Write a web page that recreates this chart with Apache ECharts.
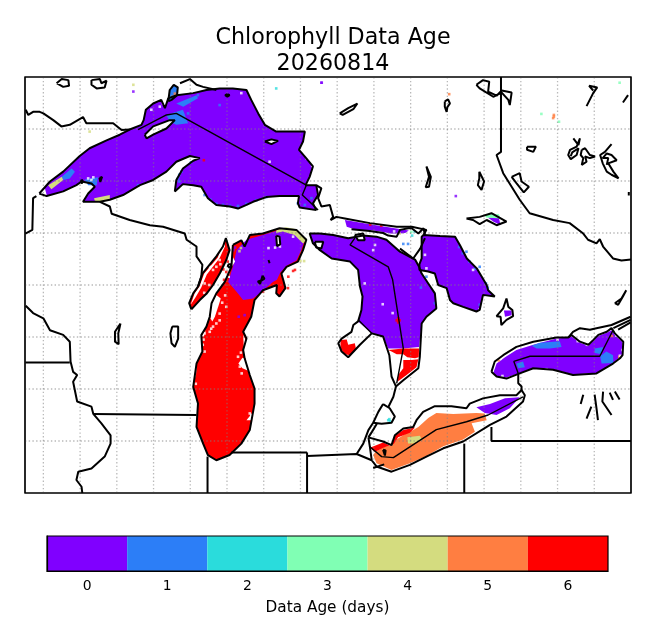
<!DOCTYPE html>
<html><head><meta charset="utf-8">
<style>html,body{margin:0;padding:0;background:#fff}#c{width:655px;height:640px}</style>
<script src="https://cdn.jsdelivr.net/npm/echarts@6/dist/echarts.min.js"></script>
</head><body><div id="c"></div>
<script>
const titleLines = ['Chlorophyll Data Age', '20260814'];
const ageCategories = ['0','1','2','3','4','5','6'];
const ageColors = ['#8000ff','#2c7ef7','#2adcdc','#80ffb4','#d4dc7f','#ff7e41','#ff0000'];
const colorbarLabel = 'Data Age (days)';
const gridLons = [-92,-91,-90,-89,-88,-87,-86,-85,-84,-83,-82,-81,-80,-79,-78,-77];
const gridLats = [42,43,44,45,46,47,48];

// Lake outlines, lon/lat
const superior = [[-92.11,46.76],[-91.82,46.99],[-91.46,47.18],[-91.01,47.48],[-90.74,47.63],[-90.28,47.78],[-89.92,47.89],[-89.65,47.99],[-89.33,48.08],[-89.27,48.17],[-89.21,48.37],[-89.01,48.49],[-88.79,48.56],[-88.69,48.40],[-88.60,48.59],[-88.37,48.65],[-87.92,48.69],[-87.56,48.75],[-87.20,48.78],[-86.84,48.78],[-86.47,48.75],[-86.34,48.56],[-86.15,48.30],[-85.97,48.08],[-85.66,47.95],[-85.20,47.95],[-84.88,47.95],[-84.93,47.76],[-85.04,47.60],[-84.88,47.47],[-84.66,47.28],[-84.75,47.08],[-84.86,46.92],[-84.57,46.92],[-84.52,46.73],[-84.66,46.57],[-84.57,46.44],[-85.02,46.49],[-85.07,46.57],[-85.04,46.71],[-85.57,46.71],[-85.93,46.69],[-86.29,46.60],[-86.47,46.54],[-86.70,46.47],[-86.92,46.51],[-87.29,46.54],[-87.52,46.67],[-87.70,46.89],[-87.92,46.92],[-88.20,46.94],[-88.42,46.80],[-88.38,47.02],[-88.20,47.24],[-87.92,47.39],[-87.74,47.44],[-88.01,47.48],[-88.38,47.37],[-88.65,47.18],[-89.01,47.02],[-89.37,46.92],[-89.83,46.73],[-90.19,46.64],[-90.46,46.60],[-90.92,46.60],[-90.78,46.76],[-90.60,46.89],[-90.69,46.95],[-90.96,46.99],[-91.10,46.92],[-91.46,46.80],[-91.91,46.71]];
const michigan = [[-86.84,45.77],[-86.61,45.86],[-86.52,45.74],[-86.38,45.96],[-86.02,45.99],[-85.57,46.09],[-85.11,46.06],[-84.84,45.87],[-84.93,45.67],[-85.07,45.45],[-85.38,45.35],[-85.52,45.22],[-85.47,45.10],[-85.41,44.94],[-85.57,44.78],[-85.66,44.84],[-85.64,45.00],[-86.02,44.90],[-86.25,44.71],[-86.34,44.39],[-86.56,44.10],[-86.47,43.97],[-86.56,43.75],[-86.52,43.59],[-86.38,43.27],[-86.25,43.01],[-86.25,42.72],[-86.38,42.21],[-86.61,41.95],[-86.93,41.73],[-87.29,41.63],[-87.52,41.73],[-87.65,41.95],[-87.83,42.27],[-87.79,42.72],[-87.92,43.04],[-87.83,43.49],[-87.67,43.72],[-87.70,44.04],[-87.56,44.20],[-87.47,44.39],[-87.42,44.65],[-87.29,44.84],[-87.06,45.06],[-86.88,45.35]];
const greenBay = [[-87.97,44.53],[-88.03,44.65],[-87.92,44.84],[-87.79,44.97],[-87.67,45.22],[-87.29,45.55],[-87.11,45.74],[-87.03,45.90],[-86.93,45.67],[-87.02,45.48],[-87.19,45.23],[-87.38,45.00],[-87.56,44.83],[-87.74,44.71]];
const huron = [[-84.47,45.99],[-84.11,45.96],[-83.70,45.90],[-83.29,45.95],[-82.93,45.93],[-82.66,45.87],[-82.29,45.64],[-81.88,45.49],[-81.77,45.35],[-81.70,45.22],[-81.52,45.03],[-81.34,44.84],[-81.30,44.55],[-81.57,44.39],[-81.70,44.26],[-81.75,43.62],[-81.79,43.40],[-82.20,43.17],[-82.40,43.05],[-82.52,43.24],[-82.58,43.65],[-82.75,44.01],[-83.06,44.07],[-83.38,43.85],[-83.70,43.61],[-83.88,43.72],[-83.97,43.88],[-83.88,43.97],[-83.61,44.10],[-83.56,44.23],[-83.43,44.30],[-83.34,44.52],[-83.31,44.78],[-83.38,44.97],[-83.43,45.29],[-83.65,45.45],[-84.15,45.51],[-84.47,45.67],[-84.66,45.80],[-84.75,45.99]];
const georgian = [[-81.65,45.96],[-81.20,45.94],[-80.79,45.93],[-80.66,45.77],[-80.47,45.51],[-80.20,45.32],[-79.93,45.00],[-79.89,44.90],[-79.71,44.78],[-80.03,44.81],[-80.12,44.52],[-80.21,44.49],[-80.57,44.58],[-80.84,44.65],[-80.93,44.71],[-80.98,44.84],[-81.02,44.94],[-81.25,45.00],[-81.34,45.22],[-81.52,45.26],[-81.76,45.29],[-81.76,45.40],[-81.70,45.51],[-81.70,45.93]];
const erie = [[-83.15,42.07],[-83.11,41.89],[-83.06,41.63],[-82.93,41.51],[-82.52,41.41],[-82.02,41.54],[-81.57,41.70],[-81.11,41.86],[-80.57,41.99],[-79.84,42.31],[-79.39,42.47],[-78.94,42.76],[-78.89,42.88],[-78.98,42.98],[-79.12,42.88],[-79.57,42.88],[-80.03,42.82],[-80.39,42.72],[-80.48,42.63],[-80.89,42.67],[-81.34,42.67],[-81.66,42.56],[-81.84,42.40],[-81.93,42.27],[-82.20,42.24],[-82.43,42.11],[-82.52,41.92],[-82.75,41.99]];
const ontario = [[-79.80,43.33],[-79.71,43.53],[-79.48,43.65],[-79.12,43.81],[-78.66,43.91],[-78.03,43.99],[-77.71,43.99],[-77.62,44.04],[-77.39,43.91],[-77.16,43.85],[-77.03,43.94],[-76.89,44.04],[-76.66,44.10],[-76.53,44.17],[-76.44,44.07],[-76.21,43.91],[-76.23,43.65],[-76.30,43.59],[-76.49,43.49],[-76.94,43.30],[-77.58,43.27],[-78.12,43.37],[-78.66,43.40],[-79.03,43.30],[-79.39,43.20],[-79.66,43.24]];
const stClair = [[-82.75,42.71],[-82.57,42.63],[-82.43,42.47],[-82.52,42.35],[-82.79,42.33],[-83.02,42.35],[-82.88,42.56]];

// Areas of each data age
const huronAge0 = [[-84.47,45.99],[-84.11,45.96],[-83.70,45.90],[-83.29,45.95],[-82.93,45.93],[-82.66,45.87],[-82.29,45.64],[-81.88,45.49],[-81.77,45.35],[-81.70,45.22],[-81.52,45.03],[-81.34,44.84],[-81.30,44.55],[-81.57,44.39],[-81.70,44.26],[-81.77,43.81],[-82.20,43.78],[-82.61,43.78],[-82.75,44.01],[-83.06,44.07],[-83.43,44.30],[-83.34,44.52],[-83.31,44.78],[-83.38,44.97],[-83.43,45.29],[-83.65,45.45],[-84.15,45.51],[-84.47,45.67],[-84.66,45.80],[-84.75,45.99]];
const michiganAge0 = [[-86.47,45.87],[-86.02,45.96],[-85.57,46.06],[-85.11,46.03],[-84.88,45.87],[-84.98,45.67],[-85.11,45.47],[-85.38,45.37],[-85.55,45.24],[-85.64,45.10],[-85.75,45.06],[-86.06,44.87],[-86.29,44.74],[-86.56,44.71],[-86.74,44.87],[-86.97,45.06],[-86.84,45.35],[-86.74,45.67],[-86.61,45.77]];
const northChannelAge0 = [[-83.79,46.25],[-83.11,46.17],[-82.43,46.09],[-82.05,46.05],[-82.15,46.00],[-82.29,45.99],[-82.56,45.99],[-82.75,46.02],[-83.11,46.06],[-83.47,46.06],[-83.74,46.12]];
const ontarioAge0 = [[-79.75,43.31],[-79.66,43.49],[-79.43,43.61],[-79.12,43.75],[-78.66,43.85],[-78.03,43.97],[-77.71,43.99],[-77.62,44.01],[-77.39,43.89],[-77.16,43.83],[-77.03,43.92],[-76.89,44.02],[-76.66,44.08],[-76.53,44.13],[-76.44,44.04],[-76.23,43.90],[-76.25,43.65],[-76.49,43.50],[-76.94,43.31],[-77.58,43.28],[-78.12,43.38],[-78.66,43.41],[-79.03,43.31],[-79.39,43.22],[-79.66,43.25]];
const erieAge0 = [[-80.21,42.65],[-79.84,42.71],[-79.43,42.82],[-79.03,42.84],[-79.30,42.63],[-79.66,42.50],[-79.98,42.54]];
const simcoeAge0 = [[-79.46,44.51],[-79.25,44.51],[-79.25,44.42],[-79.43,44.39]];
const nipissingAge0 = [[-79.90,46.30],[-79.60,46.30],[-79.55,46.15],[-79.75,46.22]];
const nipissingAge3 = [[-79.98,46.36],[-79.60,46.36],[-79.55,46.28],[-79.95,46.30]];
const superiorAge1A = [[-88.65,48.27],[-88.20,48.37],[-88.06,48.11],[-88.38,48.08],[-88.56,48.14]];
const superiorAge1B = [[-88.38,48.49],[-87.83,48.65],[-87.79,48.59],[-88.19,48.43]];
const superiorAge1C = [[-91.50,47.08],[-91.23,47.24],[-91.14,47.18],[-91.28,47.05],[-91.46,47.02]];
const superiorAge1D = [[-90.87,47.03],[-90.51,47.07],[-90.55,46.92],[-90.78,46.92]];
const nipigonAge1 = [[-88.60,48.53],[-88.56,48.75],[-88.45,48.85],[-88.34,48.80],[-88.36,48.65],[-88.51,48.56]];
const ontarioAge1A = [[-78.71,43.83],[-78.48,43.89],[-77.94,43.92],[-77.89,43.81],[-78.21,43.78],[-78.57,43.78]];
const ontarioAge1B = [[-76.84,43.63],[-76.67,43.72],[-76.49,43.65],[-76.48,43.50],[-76.80,43.49]];
const ontarioAge1C = [[-79.12,43.49],[-78.94,43.53],[-78.89,43.42],[-79.07,43.40]];
const ontarioAge1D = [[-76.99,43.78],[-76.76,43.81],[-76.80,43.67],[-76.99,43.69]];
const superiorAge4A = [[-91.87,46.92],[-91.50,47.08],[-91.46,47.02],[-91.78,46.84]];
const superiorAge4B = [[-90.62,46.67],[-90.19,46.73],[-90.19,46.65],[-90.46,46.60],[-90.60,46.62]];
const michiganAge4 = [[-85.66,46.06],[-85.39,46.11],[-85.11,46.07],[-84.82,45.87],[-84.93,45.80],[-85.16,45.96],[-85.48,46.03],[-85.66,46.00]];
const erieAge4 = [[-82.09,42.07],[-81.75,42.10],[-81.68,42.02],[-81.93,41.95],[-82.07,41.95]];
const erieAge5 = [[-83.02,41.73],[-82.93,41.57],[-82.52,41.44],[-82.02,41.57],[-81.57,41.71],[-81.11,41.90],[-80.57,42.03],[-80.25,42.18],[-80.34,42.34],[-79.93,42.40],[-79.98,42.53],[-80.21,42.54],[-80.84,42.52],[-81.30,42.54],[-81.52,42.44],[-81.79,42.27],[-81.93,42.21],[-82.16,42.13],[-82.43,42.01],[-82.49,41.92],[-82.75,41.89],[-82.97,41.78]];
const erieAge6 = [[-83.11,41.87],[-82.75,41.97],[-82.55,41.91],[-82.43,42.10],[-82.20,42.21],[-81.88,42.26],[-82.02,42.16],[-82.34,42.07],[-82.46,41.94],[-82.75,41.87],[-82.97,41.79]];
const huronAge6A = [[-82.61,43.75],[-82.20,43.78],[-81.77,43.78],[-81.78,43.61],[-81.88,43.59],[-82.09,43.61],[-82.20,43.67],[-82.38,43.67],[-82.52,43.72]];
const huronAge6B = [[-82.20,43.56],[-81.98,43.56],[-81.79,43.57],[-81.84,43.42],[-82.11,43.27],[-82.36,43.14],[-82.34,43.27],[-82.20,43.40]];
const saginawAge6 = [[-83.91,43.94],[-83.74,43.95],[-83.70,43.85],[-83.52,43.88],[-83.49,43.78],[-83.65,43.65],[-83.79,43.67],[-83.91,43.78]];

// Land and no-data areas inside the lakes
const isleRoyale = [[-89.24,47.89],[-89.01,48.05],[-88.56,48.17],[-88.42,48.17],[-88.65,48.01],[-89.01,47.89],[-89.19,47.82]];
const michipicoten = [[-85.97,47.76],[-85.79,47.80],[-85.61,47.77],[-85.79,47.71]];
const boisBlanc = [[-84.61,45.83],[-84.38,45.83],[-84.43,45.70],[-84.57,45.72]];
const drummond = [[-83.52,45.96],[-83.29,45.99],[-83.25,45.86],[-83.43,45.86]];
const manitou = [[-85.66,45.95],[-85.57,45.93],[-85.55,45.78],[-85.64,45.75]];
const duluthGap = [[-92.08,46.78],[-91.96,46.86],[-91.91,46.73],[-92.02,46.71]];
const greenBayGap = [[-87.10,45.83],[-87.25,45.53],[-87.62,45.22],[-87.75,44.97],[-87.88,44.84],[-87.99,44.62],[-87.86,44.76],[-87.70,44.95],[-87.55,45.20],[-87.20,45.52],[-87.05,45.75]];
const michiganGapA = [[-87.42,44.65],[-87.29,44.81],[-87.17,44.74],[-87.24,44.58],[-87.33,44.39],[-87.40,44.30],[-87.45,44.36]];
const michiganGapB = [[-86.69,43.49],[-86.58,43.60],[-86.52,43.59],[-86.42,43.35],[-86.58,43.40]];
const michiganGapC = [[-86.47,42.40],[-86.29,42.56],[-86.34,42.40]];
const michiganGapD = [[-87.70,44.01],[-87.58,44.13],[-87.63,44.01]];
const michiganGapE = [[-87.88,43.33],[-87.82,43.49],[-87.85,43.21]];
const michiganGapF = [[-86.56,44.04],[-86.49,43.94],[-86.54,43.78]];
const michiganGapG = [[-87.01,45.55],[-86.87,45.58],[-86.78,45.45],[-86.92,45.29],[-86.92,45.13],[-87.05,45.16]];

// Scattered single cells by age
const speck0 = [[-86.52,44.42],[-86.68,44.39],[-80.77,46.71],[-84.42,48.89],[-89.55,48.72],[-84.43,48.89],[-86.83,45.67],[-86.78,45.72]];
const speck1 = [[-87.79,48.65],[-87.20,48.46],[-88.06,48.30],[-89.42,46.92],[-90.83,46.99],[-84.70,46.67],[-85.07,46.57],[-84.88,46.54],[-81.57,45.16],[-80.12,45.35],[-80.48,45.64],[-82.07,45.79],[-82.20,45.79],[-81.34,44.65],[-80.12,44.62],[-87.61,46.73],[-87.29,46.56],[-86.92,46.52],[-86.47,46.56],[-85.93,46.69],[-87.45,46.64],[-87.11,46.54],[-86.70,46.52],[-86.20,46.63],[-88.30,46.99],[-88.33,47.05],[-88.30,47.12],[-88.24,47.18],[-87.98,47.36],[-80.68,45.73],[-80.58,45.61],[-80.40,45.45],[-80.25,45.31],[-81.72,44.95],[-79.95,45.03],[-79.90,44.95]];
const speck2 = [[-85.66,48.78],[-82.61,42.40],[-82.56,42.38],[-82.58,42.42],[-81.89,46.03],[-81.96,45.95]];
const speck3 = [[-77.96,48.14],[-78.44,48.29],[-76.31,48.89],[-81.98,46.02]];
const speck4 = [[-89.55,48.85],[-90.74,47.95],[-85.00,45.46],[-84.90,45.46],[-82.30,45.99],[-86.62,45.71],[-86.66,45.65]];
const speck5 = [[-80.95,48.67],[-78.10,48.27],[-78.10,48.24],[-78.12,48.21],[-88.48,48.62],[-88.42,48.68],[-76.32,43.62],[-76.52,44.02],[-79.60,43.55]];
const speck6 = [[-87.63,47.40],[-82.34,44.32],[-82.30,44.32],[-82.38,44.32],[-82.34,44.36],[-82.34,44.28],[-85.20,45.27],[-86.02,44.87],[-85.34,44.94],[-85.15,45.29],[-85.33,45.16],[-87.10,45.30],[-87.02,45.25],[-86.98,45.45],[-87.08,45.10],[-86.95,45.20],[-83.10,46.16],[-82.80,46.14]];
const speckBlank = [[-85.84,47.37],[-84.84,47.44],[-84.68,47.29],[-90.78,47.05],[-90.69,47.02],[-90.64,47.07],[-89.06,48.37],[-88.83,48.43],[-88.74,48.49],[-86.61,48.69],[-85.20,45.93],[-82.97,45.77],[-83.02,45.67],[-83.25,45.03],[-80.30,45.29],[-81.61,45.58],[-81.57,45.32],[-82.76,44.63],[-82.49,44.46],[-80.12,44.53],[-87.47,45.35],[-87.38,45.29],[-87.61,45.03],[-87.20,45.48],[-87.29,45.35],[-87.20,44.45],[-87.29,44.26],[-87.02,44.58],[-87.61,43.72],[-87.61,44.07],[-87.47,44.10],[-86.65,43.43],[-86.38,42.53],[-86.34,42.50],[-85.69,45.72],[-85.56,45.74],[-85.87,45.71],[-87.33,44.55],[-87.13,44.66],[-87.05,44.80],[-87.20,44.32],[-87.38,44.20],[-87.43,44.16],[-87.64,43.95],[-87.66,43.85],[-87.80,43.60],[-87.85,43.10],[-86.70,43.62],[-86.62,43.70],[-86.60,43.30],[-87.72,44.70],[-87.48,45.00],[-87.62,44.85],[-87.18,45.40],[-82.12,45.88],[-82.25,45.92],[-82.45,46.03],[-81.98,45.90],[-78.70,43.93],[-79.30,43.73],[-79.55,43.58],[-78.00,43.95],[-77.45,43.92],[-76.40,44.03],[-76.23,43.75],[-76.30,43.64],[-79.50,43.25],[-78.30,43.38],[-77.20,43.85]];

// Borders and small lakes
const coastLoops = [superior, michigan, greenBay, huron, georgian, erie, ontario, stClair, isleRoyale, michipicoten, boisBlanc, drummond, manitou, nipigonAge1];
const mnOntario = [[-92.48,48.37],[-92.41,48.27],[-92.28,48.33],[-92.10,48.33],[-92.00,48.30],[-91.73,48.17],[-91.51,48.05],[-91.28,48.08],[-90.92,48.23],[-90.83,48.11],[-90.46,48.11],[-90.10,48.11],[-89.87,47.98],[-89.65,47.99]];
const mnWisconsin = [[-92.19,46.71],[-92.28,46.67],[-92.30,46.06],[-92.49,45.99]];
const wiUpper = [[-90.46,46.60],[-90.19,46.51],[-90.14,46.37],[-89.65,46.25],[-89.10,46.15],[-88.74,46.12],[-88.15,45.99],[-88.10,45.87],[-87.83,45.74],[-87.83,45.55],[-87.67,45.39],[-87.70,45.16],[-87.79,44.97]];
const mississippi = [[-92.48,44.60],[-92.28,44.46],[-92.00,44.36],[-91.82,44.13],[-91.46,44.04],[-91.28,43.91],[-91.26,43.53],[-91.19,43.33],[-91.08,43.27],[-91.19,43.14],[-91.08,42.76],[-90.69,42.66],[-90.64,42.52],[-90.42,42.34],[-90.17,42.11],[-90.17,41.95],[-90.33,41.70],[-90.69,41.47],[-91.05,41.41],[-91.10,41.25],[-90.96,41.12],[-90.94,41.00]];
const mnIowa = [[-92.49,43.51],[-91.28,43.51]];
const ilWisconsin = [[-90.64,42.52],[-87.83,42.50]];
const ilIndiana = [[-87.53,41.70],[-87.53,41.00]];
const inMichigan = [[-86.88,41.78],[-84.82,41.78]];
const inOhio = [[-84.82,41.00],[-84.82,41.78]];
const miOhio = [[-84.82,41.71],[-83.47,41.75],[-83.06,41.63]];
const paOhio = [[-80.54,41.95],[-80.54,41.00]];
const paNewYork = [[-79.80,42.27],[-79.80,42.00],[-76.00,42.00]];
const ontQuebec = [[-79.54,49.00],[-79.54,47.56],[-79.66,47.50],[-79.48,47.15],[-79.25,46.89],[-79.03,46.64],[-78.76,46.38],[-78.12,46.25],[-77.67,46.19],[-77.30,45.99],[-77.17,45.87],[-76.94,45.80],[-76.85,45.88],[-76.76,45.74],[-76.49,45.51],[-76.26,45.47],[-76.00,45.49]];
const saultRiver = [[-84.57,46.92],[-84.43,46.86],[-84.52,46.67],[-84.43,46.51],[-84.20,46.54],[-84.11,46.31],[-84.18,46.25],[-84.02,46.31],[-83.79,46.28],[-83.11,46.19],[-82.38,46.12],[-81.97,46.12],[-81.57,46.06],[-81.65,45.96]];
const manitoulinNorth = [[-83.61,46.07],[-83.11,46.04],[-82.75,46.00],[-82.61,45.95],[-82.38,45.93],[-82.29,46.06],[-82.06,46.09],[-81.97,46.09],[-81.79,45.99],[-81.65,46.09],[-81.61,45.96]];
const manitoulinEast = [[-82.29,45.70],[-81.93,45.51],[-81.74,45.70],[-81.61,45.90]];
const stClairRiver = [[-82.40,43.05],[-82.47,42.85],[-82.61,42.65]];
const detroitRiver = [[-83.02,42.35],[-83.15,42.21],[-83.29,41.95],[-83.47,41.75]];
const detroitRiver2 = [[-82.92,42.33],[-83.05,42.18],[-83.15,42.07]];
const niagara = [[-79.07,43.30],[-79.07,43.11],[-78.98,43.05],[-78.98,42.98]];
const princeEdward = [[-77.71,43.99],[-77.58,44.10],[-77.39,44.17],[-77.12,44.14],[-76.94,44.17],[-76.53,44.23],[-76.01,44.39]];
const thousandB = [[-76.48,44.17],[-76.01,44.33]];
const thousandC = [[-76.35,44.14],[-76.01,44.28]];
const lakeOutlines = [
 [[-91.64,48.88],[-91.50,48.96],[-91.32,48.94],[-91.30,48.83],[-91.46,48.81],[-91.64,48.88]],
 [[-90.69,48.94],[-90.46,48.96],[-90.42,48.88],[-90.28,48.93],[-90.33,48.80],[-90.55,48.78],[-90.69,48.85],[-90.69,48.94]],
 [[-88.28,48.88],[-88.01,48.96],[-87.83,48.85],[-87.65,48.81],[-87.29,48.75]],
 [[-83.93,48.30],[-83.70,48.40],[-83.45,48.49],[-83.56,48.38],[-83.85,48.27],[-83.93,48.30]],
 [[-81.07,48.53],[-80.98,48.57],[-80.93,48.49],[-81.00,48.42],[-81.02,48.33],[-81.07,48.43],[-81.07,48.53]],
 [[-80.21,48.85],[-80.03,48.94],[-79.86,48.91],[-79.89,48.72],[-79.66,48.64],[-79.52,48.74],[-79.25,48.70],[-79.30,48.46],[-79.34,48.56],[-79.52,48.70],[-79.75,48.62],[-80.12,48.78],[-80.21,48.85]],
 [[-81.57,47.28],[-81.45,47.08],[-81.50,46.89],[-81.59,46.88],[-81.50,47.08],[-81.57,47.28]],
 [[-80.13,47.18],[-80.00,46.99],[-80.07,46.83],[-80.17,46.92],[-80.13,47.05],[-80.13,47.18]],
 [[-80.48,46.28],[-80.12,46.31],[-79.80,46.38],[-79.39,46.22],[-79.66,46.15],[-79.93,46.25],[-80.12,46.17],[-80.30,46.25],[-80.48,46.28]],
 [[-78.83,47.66],[-78.59,47.66],[-78.66,47.56],[-78.83,47.60],[-78.83,47.66]],
 [[-79.25,47.08],[-79.03,47.15],[-78.98,46.99],[-78.78,46.89],[-78.92,46.78],[-79.12,46.96],[-79.25,47.08]],
 [[-77.57,47.82],[-77.43,47.69],[-77.39,47.82],[-77.48,47.66],[-77.66,47.60],[-77.71,47.50],[-77.64,47.42],[-77.48,47.50],[-77.43,47.63],[-77.60,47.55],[-77.64,47.48]],
 [[-77.34,47.60],[-77.25,47.63],[-77.12,47.50],[-76.98,47.47],[-77.12,47.44],[-77.25,47.47],[-77.21,47.37],[-77.34,47.31],[-77.30,47.44],[-77.37,47.50],[-77.34,47.60]],
 [[-76.53,47.71],[-76.71,47.56],[-76.84,47.50],[-76.77,47.34],[-76.66,47.18],[-76.53,47.12],[-76.34,47.05],[-76.48,47.18],[-76.62,47.34],[-76.39,47.40],[-76.53,47.50],[-76.66,47.53],[-76.77,47.44],[-76.62,47.44],[-76.66,47.31]],
 [[-76.06,46.79],[-76.02,46.76],[-76.06,46.72],[-76.06,46.79]],
 [[-77.21,48.44],[-77.03,48.69],[-76.92,48.80],[-77.14,48.83],[-77.03,48.74]],
 [[-76.22,48.51],[-76.08,48.65]],
 [[-79.39,44.74],[-79.34,44.58],[-79.23,44.52],[-79.21,44.40],[-79.39,44.33],[-79.53,44.23],[-79.55,44.39],[-79.66,44.40],[-79.48,44.55],[-79.39,44.74]],
 [[-76.44,44.65],[-76.26,44.74],[-76.13,44.90],[-76.22,44.78],[-76.35,44.62],[-76.44,44.65]],
 [[-77.30,42.89],[-77.37,42.71]],
 [[-76.99,42.89],[-76.94,42.63],[-76.90,42.40]],
 [[-76.76,42.95],[-76.78,42.76],[-76.53,42.50]],
 [[-76.58,42.93],[-76.49,42.79]],
 [[-76.44,42.95],[-76.31,42.80]],
 [[-77.08,42.66],[-77.21,42.43]],
 [[-89.90,44.26],[-90.05,44.10],[-90.05,43.91],[-89.95,43.86],[-89.96,44.07],[-89.90,44.26]],
 [[-88.49,44.20],[-88.33,44.20],[-88.33,43.97],[-88.42,43.81],[-88.51,43.88],[-88.54,44.07],[-88.49,44.20]],
 [[-86.93,45.41],[-86.88,45.37],[-86.93,45.33],[-86.98,45.37],[-86.93,45.41]],
 [[-85.87,45.48],[-85.84,45.42],[-85.88,45.40],[-85.87,45.48]],
 [[-86.03,45.18],[-85.98,45.12],[-86.05,45.09],[-86.16,45.07],[-86.10,45.02],[-86.03,45.18]],
 [[-86.99,48.67],[-86.93,48.65],[-86.99,48.62],[-87.05,48.65],[-86.99,48.67]],
 [[-90.47,47.06],[-90.40,47.08],[-90.45,46.98],[-90.47,47.06]],
 [[-90.99,47.00],[-90.95,46.95],[-90.93,47.02],[-90.99,47.00]],
 [[-82.75,41.83],[-82.68,41.82],[-82.70,41.72],[-82.75,41.83]],
 [[-83.02,41.48],[-82.72,41.55]]
];
const borderSuperior = [[-89.42,47.99],[-88.65,48.27],[-88.38,48.30],[-84.84,46.92],[-84.95,46.73],[-84.75,46.60],[-84.52,46.44]];
const borderHuron = [[-83.52,45.90],[-83.65,45.77],[-82.61,45.35],[-82.49,45.10],[-82.20,43.78],[-82.38,43.11]];
const borderSaginaw = [[-83.43,44.33],[-83.06,44.07]];
const borderOntario = [[-79.07,43.30],[-79.19,43.53],[-78.75,43.63],[-76.85,43.63],[-76.49,44.13]];
const borderErie = [[-83.11,41.89],[-82.79,41.70],[-82.47,41.68],[-81.30,42.22],[-80.48,42.37],[-79.89,42.50],[-78.94,42.85]];

const fills = [
 [superior,0],[michigan,6],[greenBay,6],[huronAge0,0],[michiganAge0,0],[georgian,0],[northChannelAge0,0],[ontarioAge0,0],[erieAge5,5],[erieAge0,0],[simcoeAge0,0],[nipissingAge0,0],[nipissingAge3,3],
 [superiorAge1A,1],[superiorAge1B,1],[superiorAge1C,1],[superiorAge1D,1],[nipigonAge1,1],[ontarioAge1A,1],[ontarioAge1B,1],[ontarioAge1C,1],[ontarioAge1D,1],
 [superiorAge4A,4],[superiorAge4B,4],[michiganAge4,4],[erieAge4,4],[erieAge6,6],[huronAge6A,6],[huronAge6B,6],[saginawAge6,6]
];
const blanks = [isleRoyale,michipicoten,boisBlanc,drummond,manitou,duluthGap,greenBayGap,michiganGapA,michiganGapB,michiganGapC,michiganGapD,michiganGapE,michiganGapF,michiganGapG];
const specks = [[speck0,ageColors[0]],[speck1,ageColors[1]],[speck2,ageColors[2]],[speck3,ageColors[3]],[speck4,ageColors[4]],[speck5,ageColors[5]],[speck6,ageColors[6]],[speckBlank,'#fff']];
const thickLines = [mnOntario,mnWisconsin,wiUpper,mississippi,mnIowa,ilWisconsin,ilIndiana,inMichigan,inOhio,miOhio,paOhio,paNewYork,ontQuebec,saultRiver,manitoulinNorth,manitoulinEast,stClairRiver,detroitRiver,detroitRiver2,niagara,princeEdward,thousandB,thousandC,...lakeOutlines,...coastLoops.map(r=>r.concat([r[0]]))];
const thinLines = [borderSuperior,borderHuron,borderSaginaw,borderOntario,borderErie];

function polySeries(ring,color,z){
  return {type:'custom',coordinateSystem:'cartesian2d',xAxisIndex:0,yAxisIndex:0,z,silent:true,clip:true,data:[ring[0]],
    renderItem:(p,api)=>({type:'polygon',shape:{points:ring.map(c=>api.coord(c))},style:{fill:color}})};
}
function lineSeries(pts,style,z){
  return {type:'line',xAxisIndex:0,yAxisIndex:0,z,silent:true,symbol:'none',data:pts,lineStyle:style,clip:true,animation:false};
}
const series = [];
fills.forEach(f=>series.push(polySeries(f[0],ageColors[f[1]],2)));
blanks.forEach(r=>series.push(polySeries(r,'#fff',3)));
specks.forEach(s=>series.push({type:'scatter',xAxisIndex:0,yAxisIndex:0,z:4,silent:true,symbol:'rect',symbolSize:2.6,data:s[0],itemStyle:{color:s[1]}}));
const dotted={color:'rgba(128,128,128,0.55)',width:1.3,type:[1.4,2.3]};
gridLons.forEach(v=>series.push(lineSeries([[v,41],[v,49]],dotted,5)));
gridLats.forEach(v=>series.push(lineSeries([[-92.5,v],[-76,v]],dotted,5)));
thickLines.forEach(l=>series.push(lineSeries(l,{color:'#000',width:2},6)));
thinLines.forEach(l=>series.push(lineSeries(l,{color:'#000',width:1.4},6)));
series.push({type:'bar',xAxisIndex:1,yAxisIndex:1,barWidth:'100%',silent:true,z:2,
  data:ageCategories.map((c,i)=>({value:1,itemStyle:{color:ageColors[i]}}))});

const chart = echarts.init(document.getElementById('c'),null,{renderer:'canvas'});
chart.setOption({
  animation:false,backgroundColor:'#fff',
  title:{text:titleLines.join('\n'),left:328,top:20,textAlign:'center',
    textStyle:{fontFamily:'DejaVu Sans',fontWeight:'normal',fontSize:22.2,lineHeight:26,color:'#000'}},
  grid:[{left:25,top:77,width:606,height:416,show:true,borderColor:'#000',borderWidth:1.2,backgroundColor:'#fff',z:0},
        {left:47,top:536,width:561,height:35,show:false}],
  xAxis:[{type:'value',gridIndex:0,min:-92.5,max:-76,show:false},
    {type:'category',gridIndex:1,data:ageCategories,position:'bottom',z:10,
     axisLine:{show:true,lineStyle:{color:'#000',width:1.2}},axisTick:{alignWithLabel:true,length:5,lineStyle:{color:'#000'}},
     axisLabel:{color:'#000',fontFamily:'DejaVu Sans',fontSize:13.9,margin:8},
     name:colorbarLabel,nameLocation:'middle',nameGap:30,nameTextStyle:{color:'#000',fontFamily:'DejaVu Sans',fontSize:15.3}}],
  yAxis:[{type:'value',gridIndex:0,min:41,max:49,show:false},
    {type:'value',gridIndex:1,min:0,max:1,z:10,axisLabel:{show:false},axisTick:{show:false},splitLine:{show:false},axisLine:{show:true,lineStyle:{color:'#000',width:1.2}}}],
  graphic:[{type:'rect',z:100,silent:true,shape:{x:47,y:536,width:561,height:35},style:{fill:'none',stroke:'#000',lineWidth:1.2}},
           {type:'rect',z:100,silent:true,shape:{x:25,y:77,width:606,height:416},style:{fill:'none',stroke:'#000',lineWidth:1.2}}],
  series
});
</script></body></html>
